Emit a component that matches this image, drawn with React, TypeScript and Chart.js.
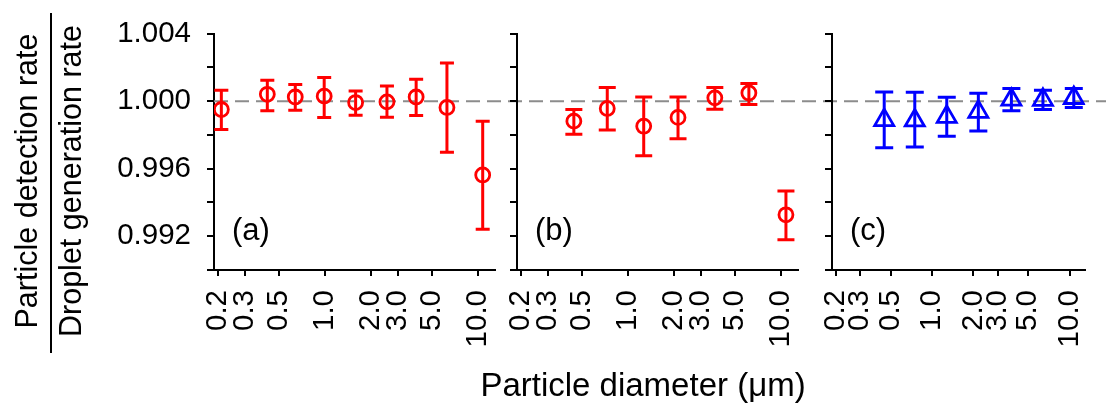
import { useEffect, useRef } from 'react';
import { Chart, registerables } from 'chart.js';

Chart.register(...registerables);

// Tick values shared by all three panels
const xTickValues = [0.2, 0.3, 0.5, 1.0, 2.0, 3.0, 5.0, 10.0];
const yTickValues = [0.990, 0.992, 0.994, 0.996, 0.998, 1.000, 1.002, 1.004];

// Panel (a)
const diamA = [0.21, 0.42, 0.64, 0.99, 1.59, 2.55, 3.96, 6.3, 10.8];
const rateA = [0.99951, 1.00041, 1.00025, 1.0003, 0.99992, 0.99996, 1.00025, 0.99963, 0.99563];
const lowA = [0.99833, 0.99943, 0.99947, 0.99904, 0.99917, 0.99905, 0.99915, 0.99697, 0.99242];
const highA = [1.00065, 1.00124, 1.00099, 1.0014, 1.00061, 1.0009, 1.0013, 1.00226, 0.99882];

// Panel (b)
const diamB = [0.443, 0.733, 1.27, 2.13, 3.71, 6.2, 10.84];
const rateB = [0.99882, 0.99957, 0.99852, 0.99904, 1.0002, 1.00049, 0.99327];
const lowB = [0.99805, 0.99829, 0.99677, 0.99777, 0.99953, 0.9998, 0.99179];
const highB = [0.99951, 1.00081, 1.00025, 1.00025, 1.00081, 1.00105, 0.99468];

// Panel (c)
const diamC = [0.45, 0.75, 1.28, 2.17, 3.77, 6.39, 10.7];
const rateC = [0.99888, 0.99886, 0.99907, 0.99937, 1.00009, 1.00008, 1.00019];
const lowC = [0.99724, 0.99728, 0.99793, 0.99823, 0.99943, 0.99951, 0.99963];
const highC = [1.00055, 1.00053, 1.00024, 1.00047, 1.00075, 1.00065, 1.00075];

const REF_RATE = 1.0;
const X_MIN = 0.188;
const X_MAX = 13.0;
const Y_MIN = 0.990;
const Y_MAX = 1.004;

const yTitleTop = 'Particle detection rate';
const yTitleBottom = 'Droplet generation rate';
const xTitle = 'Particle diameter (\u03bcm)';

const FONT = '"Liberation Sans", Arial, sans-serif';
const TICK_FONT_SIZE = 29.5;
const CANVAS_W = 1120;
const CANVAS_H = 404;
const PLOT_TOP = 33;
const PLOT_BOTTOM = 270;

type Panel = {
  tag: string;
  diam: number[];
  rate: number[];
  low: number[];
  high: number[];
  color: string;
  marker: 'circle' | 'triangle';
  radius: number;
  cap: number;
  left: number;
  right: number;
  yLabels: boolean;
  main: boolean;
};

const panels: Panel[] = [
  { tag: '(a)', diam: diamA, rate: rateA, low: lowA, high: highA, color: '#ff0000', marker: 'circle', radius: 7, cap: 14, left: 214, right: 495, yLabels: true, main: true },
  { tag: '(b)', diam: diamB, rate: rateB, low: lowB, high: highB, color: '#ff0000', marker: 'circle', radius: 7, cap: 17, left: 517, right: 798, yLabels: false, main: false },
  { tag: '(c)', diam: diamC, rate: rateC, low: lowC, high: highC, color: '#0000ff', marker: 'triangle', radius: 11, cap: 18, left: 832, right: 1113, yLabels: false, main: false },
];

function decorPlugin(p: Panel) {
  return {
    id: 'decor',
    beforeDatasetsDraw(chart: any) {
      const { ctx, chartArea } = chart;
      const xs = chart.scales.x;
      const ys = chart.scales.y;
      ctx.save();
      if (p.main) {
        // dashed reference line across all panels
        const yr = ys.getPixelForValue(REF_RATE);
        ctx.strokeStyle = '#8c8c8c';
        ctx.lineWidth = 2;
        ctx.setLineDash([14, 7]);
        ctx.beginPath();
        ctx.moveTo(chartArea.left, yr);
        ctx.lineTo(chart.width, yr);
        ctx.stroke();
        ctx.setLineDash([]);
      }
      // error bars
      ctx.strokeStyle = p.color;
      ctx.lineWidth = 3;
      p.diam.forEach((d, i) => {
        const px = xs.getPixelForValue(d);
        const yl = ys.getPixelForValue(p.low[i]);
        const yh = ys.getPixelForValue(p.high[i]);
        const h = p.cap / 2;
        ctx.beginPath();
        ctx.moveTo(px, yl);
        ctx.lineTo(px, yh);
        ctx.moveTo(px - h, yl);
        ctx.lineTo(px + h, yl);
        ctx.moveTo(px - h, yh);
        ctx.lineTo(px + h, yh);
        ctx.stroke();
      });
      ctx.restore();
    },
    afterDraw(chart: any) {
      const { ctx, chartArea } = chart;
      ctx.save();
      ctx.fillStyle = '#000';
      ctx.font = `31px ${FONT}`;
      ctx.textAlign = 'left';
      ctx.textBaseline = 'alphabetic';
      ctx.fillText(p.tag, chartArea.left + 18, 240);
      if (p.main) {
        // x-axis title
        ctx.font = `33px ${FONT}`;
        ctx.textAlign = 'center';
        ctx.fillText(xTitle, 643, 396);
        // y-axis title as a fraction
        ctx.font = `30.5px ${FONT}`;
        ctx.save();
        ctx.translate(37, 181);
        ctx.rotate(-Math.PI / 2);
        ctx.fillText(yTitleTop, 0, 0);
        ctx.restore();
        ctx.save();
        ctx.translate(81, 181);
        ctx.rotate(-Math.PI / 2);
        ctx.fillText(yTitleBottom, 0, 0);
        ctx.restore();
        ctx.strokeStyle = '#000';
        ctx.lineWidth = 2;
        ctx.beginPath();
        ctx.moveTo(51, 13);
        ctx.lineTo(51, 353);
        ctx.stroke();
      }
      ctx.restore();
    },
  };
}

function buildChart(canvas: HTMLCanvasElement, p: Panel) {
  return new Chart(canvas, {
    type: 'scatter',
    data: {
      datasets: [
        {
          data: p.diam.map((d, i) => ({ x: d, y: p.rate[i] })),
          pointStyle: p.marker,
          pointRadius: p.radius,
          pointHoverRadius: p.radius,
          pointBorderColor: p.color,
          pointBackgroundColor: 'rgba(0,0,0,0)',
          pointBorderWidth: 2.8,
          borderColor: p.color,
          backgroundColor: 'rgba(0,0,0,0)',
          showLine: false,
        } as any,
      ],
    },
    options: {
      responsive: false,
      animation: false,
      events: [],
      layout: { padding: { left: 0, right: CANVAS_W - p.right, top: PLOT_TOP, bottom: 0 } },
      plugins: { legend: { display: false }, tooltip: { enabled: false } },
      scales: {
        x: {
          type: 'logarithmic',
          min: X_MIN,
          max: X_MAX,
          afterBuildTicks: (s: any) => {
            s.ticks = xTickValues.map((v) => ({ value: v }));
          },
          afterFit: (s: any) => {
            s.height = CANVAS_H - PLOT_BOTTOM;
          },
          ticks: {
            autoSkip: false,
            maxRotation: 90,
            minRotation: 90,
            padding: 14,
            color: '#000',
            font: { size: TICK_FONT_SIZE, family: FONT },
            callback: (v: any) => Number(v).toFixed(1),
          },
          grid: { drawOnChartArea: false, drawTicks: true, tickLength: 6, color: '#000', lineWidth: 2 },
          border: { display: true, color: '#000', width: 2 },
        },
        y: {
          type: 'linear',
          min: Y_MIN,
          max: Y_MAX,
          afterBuildTicks: (s: any) => {
            s.ticks = yTickValues.map((v) => ({ value: v }));
          },
          afterFit: (s: any) => {
            s.width = p.left;
          },
          ticks: {
            autoSkip: false,
            padding: 16,
            color: '#000',
            font: { size: TICK_FONT_SIZE, family: FONT },
            callback: (v: any) => {
              if (!p.yLabels) return '';
              const n = Math.round(Number(v) * 1000);
              return n % 4 === 0 ? Number(v).toFixed(3) : '';
            },
          },
          grid: { drawOnChartArea: false, drawTicks: true, tickLength: 7, color: '#000', lineWidth: 2 },
          border: { display: true, color: '#000', width: 2 },
        },
      },
    } as any,
    plugins: [decorPlugin(p)],
  });
}

export default function App() {
  const refA = useRef<HTMLCanvasElement>(null);
  const refB = useRef<HTMLCanvasElement>(null);
  const refC = useRef<HTMLCanvasElement>(null);

  useEffect(() => {
    Chart.defaults.font.family = FONT;
    const canvases = [refA.current, refB.current, refC.current];
    const charts = panels.map((p, i) => buildChart(canvases[i] as HTMLCanvasElement, p));
    return () => charts.forEach((c) => c.destroy());
  }, []);

  const canvasStyle: React.CSSProperties = { position: 'absolute', left: 0, top: 0, width: CANVAS_W, height: CANVAS_H };

  return (
    <div style={{ position: 'absolute', left: 0, top: 0, width: 1106, height: 404, overflow: 'hidden', background: '#fff' }}>
      <canvas ref={refA} width={CANVAS_W} height={CANVAS_H} style={canvasStyle} />
      <canvas ref={refB} width={CANVAS_W} height={CANVAS_H} style={canvasStyle} />
      <canvas ref={refC} width={CANVAS_W} height={CANVAS_H} style={canvasStyle} />
    </div>
  );
}
